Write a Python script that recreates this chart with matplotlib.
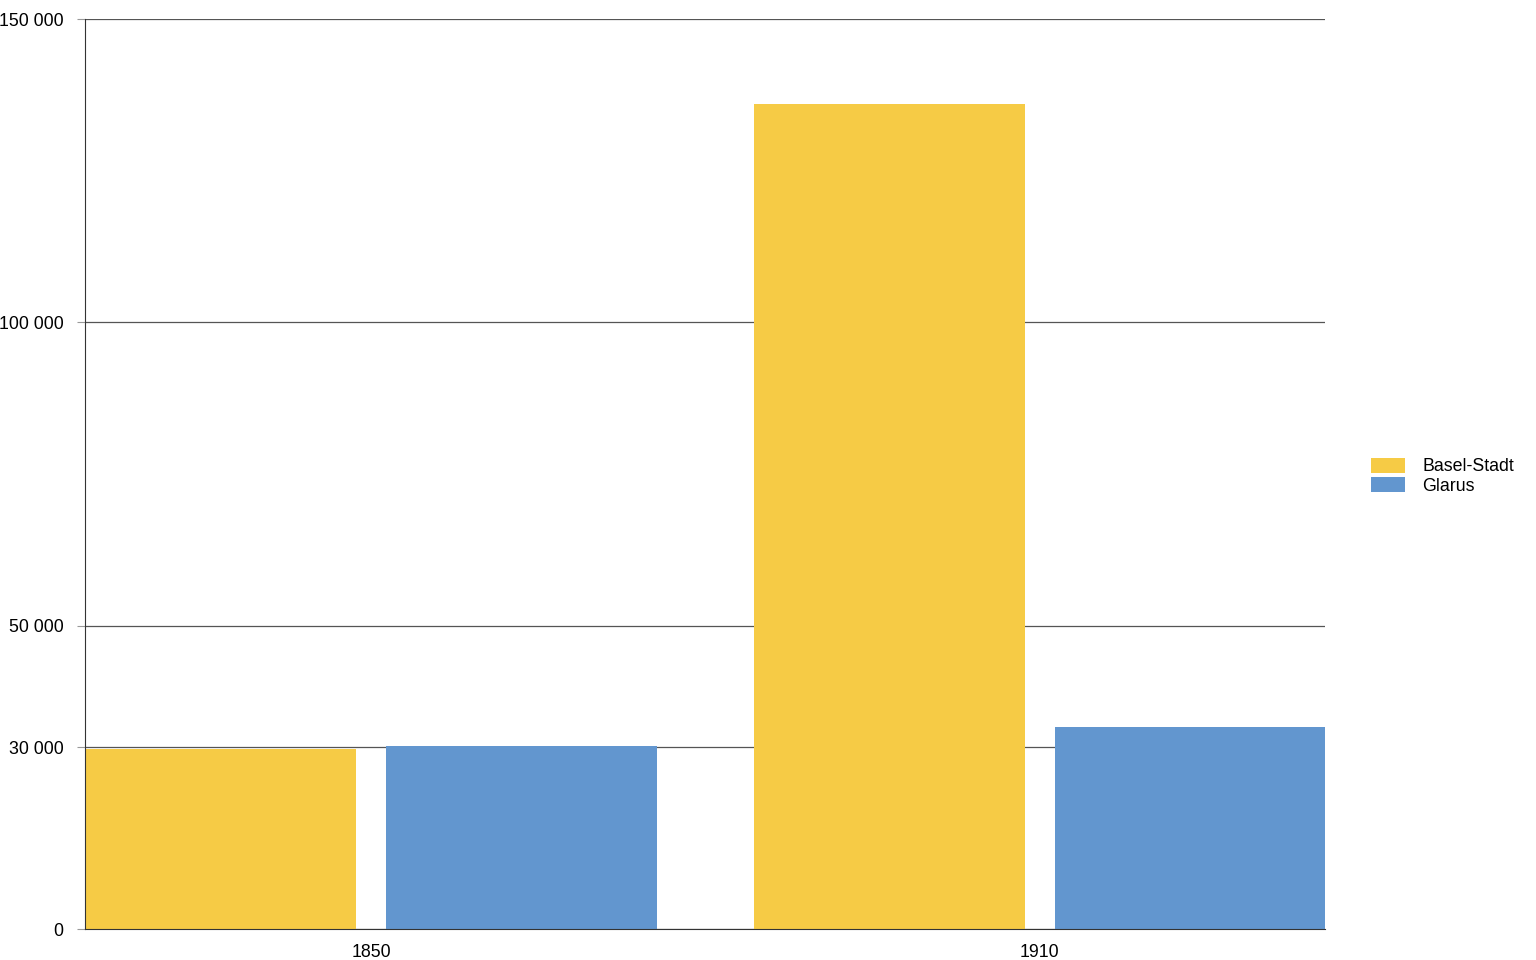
import numpy as np
import matplotlib.pyplot as plt
from matplotlib.ticker import FuncFormatter

plt.rcParams['font.family'] = ['Liberation Sans', 'DejaVu Sans']

years = ['1850', '1910']
cantons = ['Basel-Stadt', 'Glarus']
basel = [29698, 135918]
glarus = [30213, 33316]
colors = ['#F6CB45', '#6296CF']
yticks = [0, 30000, 50000, 100000, 150000]

fig = plt.figure(figsize=(15.36, 9.6), dpi=100)
ax = fig.add_axes([85/1536, 31/960, 1240/1536, 910/960])

x = np.arange(len(years))
w = 0.405
off = 0.225
ax.bar(x - off, basel, w, color=colors[0], label=cantons[0], zorder=2)
ax.bar(x + off, glarus, w, color=colors[1], label=cantons[1], zorder=2)

ax.set_xlim(-0.428, 1.427)
ax.set_ylim(0, 150000)
ax.set_xticks(x)
ax.set_xticklabels(years)
ax.set_yticks(yticks)
ax.yaxis.set_major_formatter(FuncFormatter(lambda v, p: f'{int(v):,}'.replace(',', ' ')))
ax.grid(axis='y', color='#555555', lw=0.9, zorder=1)
ax.tick_params(axis='y', length=6, color='#999999', pad=9.5, labelsize=12.8)
ax.tick_params(axis='x', length=0, pad=11, labelsize=12.8)
for s in ['top', 'right']:
    ax.spines[s].set_visible(False)
ax.spines['left'].set_color('#333333')
ax.spines['bottom'].set_color('#333333')

ax.legend(loc='upper left', bbox_to_anchor=(1371/1536, 1 - 458/960),
          bbox_transform=fig.transFigure, frameon=False, fontsize=12.8,
          borderpad=0, borderaxespad=0, handlelength=1.93, handleheight=0.88,
          handletextpad=0.95, labelspacing=0.1)

fig.savefig('out.png', dpi=100)
